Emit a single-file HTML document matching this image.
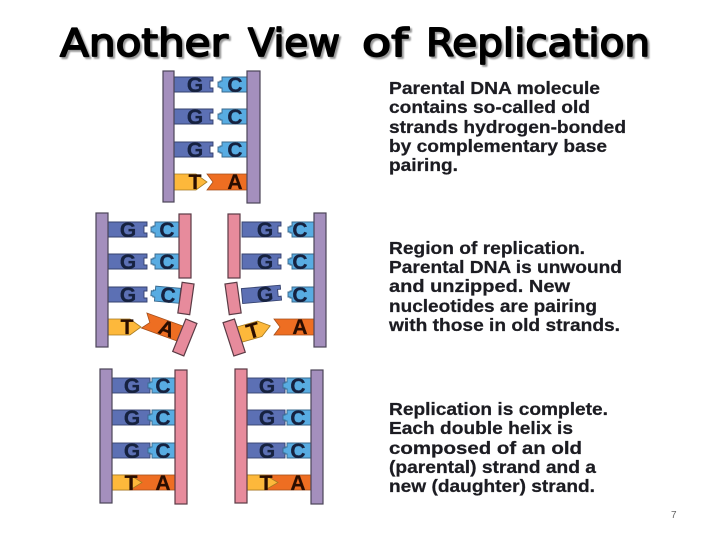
<!DOCTYPE html>
<html><head><meta charset="utf-8"><style>
html,body{margin:0;padding:0;background:#fff;width:720px;height:540px;overflow:hidden}
svg{display:block}
.l{font:bold 17.5px "Liberation Sans",sans-serif;fill:#1f1f24;stroke:#1f1f24;stroke-width:.25}
.b{font:bold 21px "Liberation Sans",sans-serif;text-anchor:middle;fill:#17213f;stroke:#17213f;stroke-width:.3}
.d{fill:#2a1006;stroke:#2a1006}
.t{font:38px "DejaVu Sans",sans-serif;stroke-width:1.7;stroke-linejoin:round;stroke-linecap:round}
</style></head><body>
<svg width="720" height="540" viewBox="0 0 720 540" xmlns="http://www.w3.org/2000/svg">
<defs>
<filter id="s"><feGaussianBlur stdDeviation="0.35"/></filter>
<filter id="sh"><feGaussianBlur stdDeviation="0.9"/></filter>
<path id="G" d="M0 0H39V4H36V11H39V15H0Z" fill="#5b70b4" stroke="#36426e" stroke-width=".9"/>
<path id="C" d="M29 0H4V4H2V5H0V10H2V11H4V15H29Z" fill="#58ace2" stroke="#38688c" stroke-width=".9"/>
<path id="T" d="M0 0H22L33 8L22 16H0Z" fill="#fdb83a" stroke="#a57a20" stroke-width=".8"/>
<path id="A" d="M40 0H0L6 8L0 16H40Z" fill="#ee6e22" stroke="#a5501c" stroke-width=".8"/>
<rect id="P" width="12" height="134" fill="#a48fbd" stroke="#4b4458" stroke-width="1.2"/>
<rect id="R" width="12" height="64" fill="#e78b9c" stroke="#5a3a44" stroke-width="1.2"/>
<rect id="R2" width="12" height="134" fill="#e78b9c" stroke="#5a3a44" stroke-width="1.2"/>
<g id="title">
<text class="t" x="60" y="56" textLength="168" lengthAdjust="spacingAndGlyphs">Another</text>
<text class="t" x="248" y="56" textLength="92" lengthAdjust="spacingAndGlyphs">View</text>
<text class="t" x="362" y="56" textLength="46" lengthAdjust="spacingAndGlyphs">of</text>
<text class="t" x="426" y="56" textLength="224" lengthAdjust="spacingAndGlyphs">Replication</text>
</g>
</defs>

<g fill="#999" stroke="#999" transform="translate(2 2)" filter="url(#sh)"><use href="#title"/></g>
<g fill="#000" stroke="#000"><use href="#title"/></g>

<g filter="url(#s)">
<!-- top -->
<use href="#G" x="174" y="77"/><use href="#C" x="218" y="77"/>
<use href="#G" x="174" y="109"/><use href="#C" x="218" y="109"/>
<use href="#G" x="174" y="142"/><use href="#C" x="218" y="142"/>
<use href="#T" x="174" y="174"/><use href="#A" x="207" y="174"/>
<rect x="163" y="71" width="11" height="131" fill="#a48fbd" stroke="#4b4458" stroke-width="1.2"/>
<rect x="247" y="71" width="13" height="132" fill="#a48fbd" stroke="#4b4458" stroke-width="1.2"/>
<text class="b" x="195" y="92">G</text><text class="b" x="235" y="92">C</text>
<text class="b" x="195" y="124">G</text><text class="b" x="235" y="124">C</text>
<text class="b" x="195" y="157">G</text><text class="b" x="235" y="157">C</text>
<text class="b d" x="195" y="189">T</text><text class="b d" x="235" y="189">A</text>

<!-- middle left -->
<use href="#G" x="108" y="222"/><use href="#C" x="151" y="222"/>
<use href="#G" x="108" y="254"/><use href="#C" x="151" y="254"/>
<use href="#G" x="108" y="287"/>
<g transform="rotate(5 165 295)"><use href="#C" x="151" y="287"/><text class="b" x="168" y="302">C</text></g>
<use href="#T" x="108" y="319"/>
<g transform="rotate(20 162 327)"><use href="#A" x="143" y="319"/><text class="b d" x="167" y="334">A</text></g>
<use href="#P" x="96" y="213"/>
<use href="#R" x="179" y="214"/>
<rect x="180" y="283" width="12" height="31" fill="#e78b9c" stroke="#5a3a44" stroke-width="1.2" transform="rotate(8 186 298)"/>
<rect x="179" y="320" width="12" height="35" fill="#e78b9c" stroke="#5a3a44" stroke-width="1.2" transform="rotate(22 185 337)"/>
<text class="b" x="128" y="237">G</text><text class="b" x="167" y="237">C</text>
<text class="b" x="128" y="269">G</text><text class="b" x="167" y="269">C</text>
<text class="b" x="128" y="302">G</text>
<text class="b d" x="127" y="334">T</text>

<!-- middle right -->
<use href="#G" x="242" y="222"/><use href="#C" x="288" y="222"/>
<use href="#G" x="242" y="254"/><use href="#C" x="288" y="254"/>
<g transform="rotate(-5 260 295)"><use href="#G" x="242" y="287"/><text class="b" x="265" y="302">G</text></g>
<use href="#C" x="288" y="287"/>
<g transform="rotate(-16 252 331)"><use href="#T" x="238" y="323"/><text class="b d" x="253" y="338">T</text></g>
<use href="#A" x="274" y="319"/>
<use href="#P" x="314" y="213"/>
<use href="#R" x="228" y="214"/>
<rect x="227" y="283" width="12" height="31" fill="#e78b9c" stroke="#5a3a44" stroke-width="1.2" transform="rotate(-8 233 298)"/>
<rect x="228" y="320" width="12" height="35" fill="#e78b9c" stroke="#5a3a44" stroke-width="1.2" transform="rotate(-18 234 337)"/>
<text class="b" x="265" y="237">G</text><text class="b" x="300" y="237">C</text>
<text class="b" x="265" y="269">G</text><text class="b" x="300" y="269">C</text>
<text class="b" x="300" y="302">C</text>
<text class="b d" x="300" y="334">A</text>

<!-- bottom left -->
<rect x="112" y="378" width="38" height="15" fill="#5b70b4" stroke="#36426e" stroke-width=".9"/><use href="#C" x="148" y="378"/>
<rect x="112" y="410" width="38" height="15" fill="#5b70b4" stroke="#36426e" stroke-width=".9"/><use href="#C" x="148" y="410"/>
<rect x="112" y="443" width="38" height="15" fill="#5b70b4" stroke="#36426e" stroke-width=".9"/><use href="#C" x="148" y="443"/>
<rect x="112" y="475" width="63" height="15" fill="#ee6e22" stroke="#a5501c" stroke-width=".8"/>
<path d="M112 475H130L142 482.500L130 490H112Z" fill="#fdb83a" stroke="#a57a20" stroke-width=".8"/>
<use href="#P" x="100" y="369"/><use href="#R2" x="175" y="370"/>
<text class="b" x="132" y="393">G</text><text class="b" x="163" y="393">C</text>
<text class="b" x="132" y="425">G</text><text class="b" x="163" y="425">C</text>
<text class="b" x="132" y="458">G</text><text class="b" x="163" y="458">C</text>
<text class="b d" x="131" y="490">T</text><text class="b d" x="163" y="490">A</text>

<!-- bottom right -->
<rect x="247" y="378" width="38" height="15" fill="#5b70b4" stroke="#36426e" stroke-width=".9"/><use href="#C" x="283" y="378"/>
<rect x="247" y="410" width="38" height="15" fill="#5b70b4" stroke="#36426e" stroke-width=".9"/><use href="#C" x="283" y="410"/>
<rect x="247" y="443" width="38" height="15" fill="#5b70b4" stroke="#36426e" stroke-width=".9"/><use href="#C" x="283" y="443"/>
<rect x="247" y="475" width="64" height="15" fill="#ee6e22" stroke="#a5501c" stroke-width=".8"/>
<path d="M247 475H265L278 482.500L265 490H247Z" fill="#fdb83a" stroke="#a57a20" stroke-width=".8"/>
<use href="#R2" x="235" y="369"/><use href="#P" x="311" y="370"/>
<text class="b" x="267" y="393">G</text><text class="b" x="298" y="393">C</text>
<text class="b" x="267" y="425">G</text><text class="b" x="298" y="425">C</text>
<text class="b" x="267" y="458">G</text><text class="b" x="298" y="458">C</text>
<text class="b d" x="266" y="490">T</text><text class="b d" x="298" y="490">A</text>

<!-- labels -->
<text class="l" x="389" y="94" textLength="211" lengthAdjust="spacingAndGlyphs">Parental DNA molecule</text>
<text class="l" x="389" y="113" textLength="201" lengthAdjust="spacingAndGlyphs">contains so-called old</text>
<text class="l" x="389" y="133" textLength="237" lengthAdjust="spacingAndGlyphs">strands hydrogen-bonded</text>
<text class="l" x="389" y="152" textLength="218" lengthAdjust="spacingAndGlyphs">by complementary base</text>
<text class="l" x="389" y="171" textLength="69" lengthAdjust="spacingAndGlyphs">pairing.</text>

<text class="l" x="389" y="254" textLength="196" lengthAdjust="spacingAndGlyphs">Region of replication.</text>
<text class="l" x="389" y="273" textLength="233" lengthAdjust="spacingAndGlyphs">Parental DNA is unwound</text>
<text class="l" x="389" y="292" textLength="181" lengthAdjust="spacingAndGlyphs">and unzipped. New</text>
<text class="l" x="389" y="312" textLength="208" lengthAdjust="spacingAndGlyphs">nucleotides are pairing</text>
<text class="l" x="389" y="331" textLength="231" lengthAdjust="spacingAndGlyphs">with those in old strands.</text>

<text class="l" x="389" y="415" textLength="219" lengthAdjust="spacingAndGlyphs">Replication is complete.</text>
<text class="l" x="389" y="434" textLength="184" lengthAdjust="spacingAndGlyphs">Each double helix is</text>
<text class="l" x="389" y="454" textLength="193" lengthAdjust="spacingAndGlyphs">composed of an old</text>
<text class="l" x="389" y="473" textLength="207" lengthAdjust="spacingAndGlyphs">(parental) strand and a</text>
<text class="l" x="389" y="492" textLength="206" lengthAdjust="spacingAndGlyphs">new (daughter) strand.</text>
</g>
<text x="671" y="518" font-family="Liberation Sans, sans-serif" font-size="10" fill="#666">7</text>
</svg>
</body></html>
